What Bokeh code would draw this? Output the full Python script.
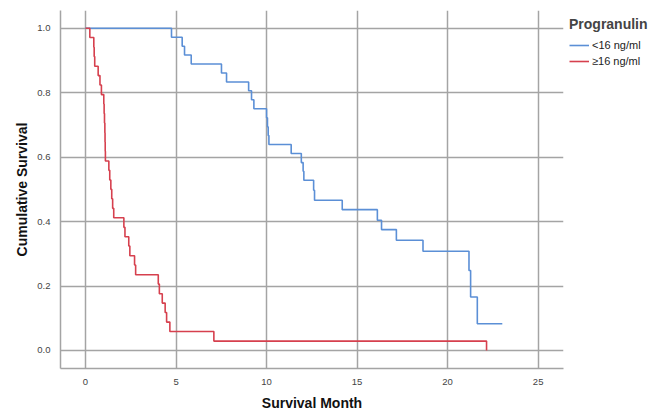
from bokeh.plotting import figure
from bokeh.models import (Range1d, FixedTicker, NumeralTickFormatter, Legend, LegendItem)
from bokeh.embed import file_html
from bokeh.resources import INLINE

# ---- data ----
group_labels = ["<16 ng/ml", "\u226516 ng/ml"]

time_low = [0, 4.75, 5.34, 5.47, 5.84, 7.51, 7.79, 9.01, 9.17, 9.30, 10.00, 10.05,
            10.09, 10.13, 11.36, 11.92, 12.02, 12.06, 12.60, 12.65, 14.18, 16.12,
            16.35, 17.17, 18.64, 21.18, 21.27, 21.64, 23.02]
surv_low = [1.0, 0.972, 0.944, 0.917, 0.889, 0.861, 0.833, 0.806, 0.778, 0.750, 0.722,
            0.694, 0.667, 0.639, 0.611, 0.583, 0.556, 0.528, 0.497, 0.466, 0.437,
            0.404, 0.375, 0.342, 0.308, 0.248, 0.166, 0.083, 0.083]

time_high = [0, 0.24, 0.46, 0.48, 0.51, 0.70, 0.80, 0.88, 1.01, 1.03, 1.05, 1.07,
             1.08, 1.09, 1.10, 1.29, 1.34, 1.40, 1.45, 1.50, 1.56, 2.12, 2.18, 2.39,
             2.45, 2.71, 2.77, 4.02, 4.08, 4.24, 4.40, 4.48, 4.66, 7.09, 22.15]
surv_high = [1.0, 0.971, 0.941, 0.912, 0.882, 0.853, 0.824, 0.794, 0.765, 0.735,
             0.706, 0.676, 0.647, 0.618, 0.588, 0.559, 0.529, 0.500, 0.471, 0.441,
             0.412, 0.382, 0.353, 0.324, 0.294, 0.265, 0.235, 0.206, 0.176, 0.147,
             0.118, 0.088, 0.059, 0.029, 0.0]

x_ticks = [0, 5, 10, 15, 20, 25]
y_ticks = [0.0, 0.2, 0.4, 0.6, 0.8, 1.0]

BLUE = "#5b8fd6"
RED = "#d6404e"
GRID = "#a4a4a4"
FONT = "Liberation Sans"

p = figure(frame_width=503, frame_height=358, output_backend="svg", toolbar_location=None,
           x_range=Range1d(-1.38, 26.4), y_range=Range1d(-0.056, 1.055),
           min_border_left=60, min_border_right=0, min_border_top=10,
           min_border_bottom=46)
p.outline_line_color = None
p.background_fill_color = "white"

r_low = p.step(time_low, surv_low, mode="after", line_color=BLUE, line_width=1.6)
r_high = p.step(time_high, surv_high, mode="after", line_color=RED, line_width=1.6)

for ax in (p.xaxis[0], p.yaxis[0]):
    ax.axis_line_color = GRID
    ax.axis_line_width = 1.5
    ax.major_tick_line_color = None
    ax.minor_tick_line_color = None
    ax.major_label_text_font = FONT
    ax.major_label_text_font_size = "9.5px"
    ax.major_label_text_color = "#444444"
    ax.axis_label_text_font = FONT
    ax.axis_label_text_font_size = "14px"
    ax.axis_label_text_font_style = "bold"
    ax.axis_label_text_color = "#111111"

p.xaxis.ticker = FixedTicker(ticks=x_ticks)
p.yaxis.ticker = FixedTicker(ticks=y_ticks)
p.yaxis.formatter = NumeralTickFormatter(format="0.0")
p.xaxis.axis_label = "Survival Month"
p.yaxis.axis_label = "Cumulative Survival"
p.xaxis.major_label_standoff = 4
p.xaxis.axis_label_standoff = 7
p.yaxis.major_label_standoff = 4
p.yaxis.axis_label_standoff = 4

p.xgrid.ticker = FixedTicker(ticks=x_ticks)
p.ygrid.ticker = FixedTicker(ticks=y_ticks)
for g in (p.xgrid[0], p.ygrid[0]):
    g.grid_line_color = GRID
    g.grid_line_width = 1.5

legend = Legend(items=[LegendItem(label=group_labels[0], renderers=[r_low]),
                       LegendItem(label=group_labels[1], renderers=[r_high])],
                location="top_left", title="Progranulin",
                title_text_font=FONT, title_text_font_size="14px",
                title_text_font_style="bold", title_standoff=6,
                label_text_font=FONT, label_text_font_size="11px",
                label_text_color="#222222", label_standoff=3,
                glyph_width=20, glyph_height=14, label_height=14,
                spacing=2, padding=1, margin=5,
                border_line_alpha=0, background_fill_alpha=0)
legend.title_text_line_height = 1.0
p.add_layout(legend, "right")

open("out.html", "w").write(file_html(p, INLINE))
